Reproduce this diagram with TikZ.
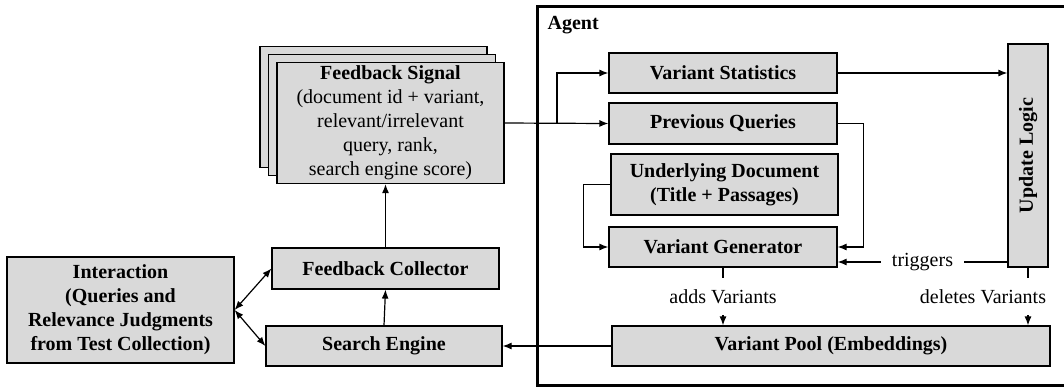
\documentclass[tikz,border=0pt]{standalone}
\usepackage{fontspec}
\setmainfont{Liberation Serif}
\usepackage{graphicx}
\usetikzlibrary{arrows.meta,shadows}

\definecolor{boxgray}{RGB}{217,217,217}

\tikzset{
    >={Latex[length=4.5pt,width=3.5pt]},
    box/.style={draw, fill=boxgray, align=center, inner sep=0pt, font=\bfseries},
    lbl/.style={fill=white, inner sep=5.5pt},
}

\begin{document}
\begin{tikzpicture}[x=0.5pt, y=-0.5pt, line width=0.6pt]
    \useasboundingbox (0,0) rectangle (1064,387);
    \def\boxw{114pt}

    % Agent frame (open on the right)
    \draw[line width=1.5pt] (1064,6) -| (537,385.5) -- (1064,385.5);
    \node[anchor=west, inner sep=0pt, font=\bfseries] (agentlbl) at (547,25) {Agent};

    % outside the agent
    \node[box, minimum width=113.5pt, minimum height=60.5pt,
          double copy shadow={shadow xshift=-4.25pt, shadow yshift=4pt, fill=boxgray, draw=black}]
          (sig) at (390.5,123) {Feedback Signal\\\mdseries(document id + variant,\\\mdseries relevant/irrelevant\\\mdseries query, rank,\\\mdseries search engine score)};
    \node[box, minimum width=113.5pt, minimum height=20.5pt] (coll) at (385.5,268.5) {Feedback Collector};
    \node[box, minimum width=118pt, minimum height=20pt] (se) at (384,346) {Search Engine};
    \node[box, minimum width=113.5pt, minimum height=53pt] (inter) at (120.5,310)
          {Interaction\\(Queries and\\Relevance Judgments\\from Test Collection)};

    % inside the agent
    \node[box, minimum width=\boxw, minimum height=20pt] (stat) at (723,73) {Variant Statistics};
    \node[box, minimum width=\boxw, minimum height=20.5pt] (prev) at (723,123.5) {Previous Queries};
    \node[box, minimum width=113.5pt, minimum height=30.5pt] (doc) at (724.5,184.5) {Underlying Document\\(Title + Passages)};
    \node[box, minimum width=\boxw, minimum height=20pt] (gen) at (723,247) {Variant Generator};
    \node[box, minimum width=219pt, minimum height=20pt] (pool) at (831,346) {Variant Pool (Embeddings)};
    \node[box, minimum width=20pt, minimum height=111.5pt] (upd) at (1028,155.5) {\rotatebox{90}{Update Logic}};

    % feedback signal into the agent
    \coordinate (split) at (557,123);
    \draw[->] (sig.east) -- (prev.west);
    \draw[->] (split) |- (stat.west);
    \draw[->] (stat.east) -- (stat.east -| upd.west);

    % inputs of the generator
    \draw[->] (prev.east) -- ++(26,0) |- (gen.east);
    \draw[->] (doc.west) -- ++(-27,0) |- (gen.west);
    \coordinate (trig) at ([yshift=-7.5pt]gen.east);
    \draw[->] (upd.west |- trig) -- node[lbl] {triggers} (trig);

    % variant pool
    \draw[->] (gen.south) -- node[lbl] {adds Variants} (gen.south |- pool.north);
    \draw[->] (upd.south) -- node[lbl, xshift=-22.5pt] {deletes Variants} (upd.south |- pool.north);
    \draw[->] (pool.west) -- (se.east);

    % search loop
    \draw[->] (se.north) -- (coll.south);
    \draw[->] (coll.north) -- (coll.north |- sig.south);
    \draw[<->] (coll.west) -- (inter.east);
    \draw[<->] (se.west) -- (inter.east);
\end{tikzpicture}
\end{document}
